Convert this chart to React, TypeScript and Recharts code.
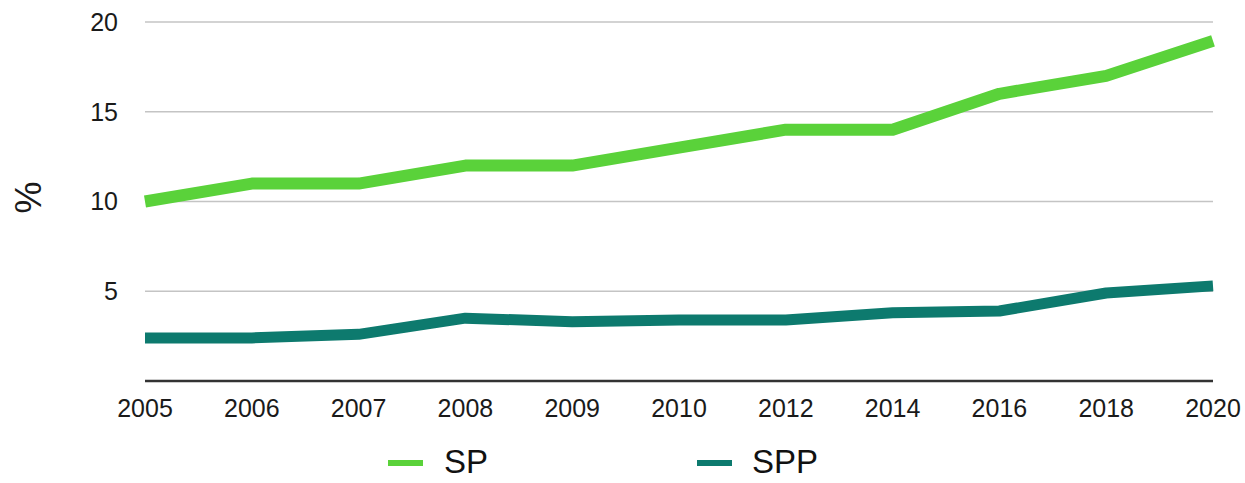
import React from 'react';
import { LineChart, Line, XAxis, YAxis, CartesianGrid, Label } from 'recharts';

const years = ['2005', '2006', '2007', '2008', '2009', '2010', '2012', '2014', '2016', '2018', '2020'];
const spValues = [10, 11, 11, 12, 12, 13, 14, 14, 16, 17, 18.95];
const sppValues = [2.4, 2.4, 2.6, 3.5, 3.3, 3.4, 3.4, 3.8, 3.9, 4.9, 5.3];
const yTicks = [5, 10, 15, 20];
const seriesNames = ['SP', 'SPP'];

const SP_COLOR = '#5ad23a';
const SPP_COLOR = '#0d7a6e';

const data = years.map((y, i) => ({ year: y, SP: spValues[i], SPP: sppValues[i] }));

const FONT = '"Liberation Sans", Arial, Helvetica, sans-serif';

const YLabel = (props: any) => {
  const vb = props.viewBox || { x: 0, y: 0, width: 0, height: 0 };
  const cx = vb.x + 28;
  const cy = vb.y + vb.height / 2 - 4;
  return (
    <text
      x={cx}
      y={cy}
      transform={`rotate(-90 ${cx} ${cy})`}
      textAnchor="middle"
      dominantBaseline="central"
      style={{ fontSize: 36, fill: '#1a1a1a', fontFamily: FONT }}
    >
      %
    </text>
  );
};

export default function App() {
  return (
    <div style={{ position: 'absolute', left: 0, top: 0, width: 1245, height: 483, background: '#fff' }}>
      <LineChart width={1245} height={483} data={data} margin={{ top: 22, right: 32, bottom: 42, left: 0 }}>
        <CartesianGrid vertical={false} stroke="#c4c4c4" strokeWidth={1.5} />
        <XAxis
          dataKey="year"
          tickLine={false}
          axisLine={{ stroke: '#333', strokeWidth: 2.5 }}
          tick={{ fill: '#1a1a1a', fontSize: 25, fontFamily: FONT }}
          tickMargin={12}
          interval={0}
          height={60}
        />
        <YAxis
          domain={[0, 20]}
          ticks={yTicks}
          width={145}
          tickLine={false}
          axisLine={false}
          tickSize={0}
          tickMargin={27}
          tick={{ fill: '#1a1a1a', fontSize: 25, fontFamily: FONT }}
        >
          <Label content={<YLabel />} />
        </YAxis>
        <Line
          type="linear"
          dataKey="SP"
          stroke={SP_COLOR}
          strokeWidth={12}
          dot={false}
          activeDot={false}
          isAnimationActive={false}
          strokeLinejoin="round"
        />
        <Line
          type="linear"
          dataKey="SPP"
          stroke={SPP_COLOR}
          strokeWidth={11}
          dot={false}
          activeDot={false}
          isAnimationActive={false}
          strokeLinejoin="round"
        />
      </LineChart>
      <div style={{ position: 'absolute', left: 0, top: 438, width: 1245, height: 45, fontFamily: FONT }}>
        <div style={{ position: 'absolute', left: 388, top: 22, width: 35, height: 6, background: SP_COLOR }} />
        <div style={{ position: 'absolute', left: 444, top: 4, fontSize: 33, color: '#111', lineHeight: '40px' }}>{seriesNames[0]}</div>
        <div style={{ position: 'absolute', left: 697, top: 22, width: 35, height: 6, background: SPP_COLOR }} />
        <div style={{ position: 'absolute', left: 752, top: 4, fontSize: 33, color: '#111', lineHeight: '40px' }}>{seriesNames[1]}</div>
      </div>
    </div>
  );
}
